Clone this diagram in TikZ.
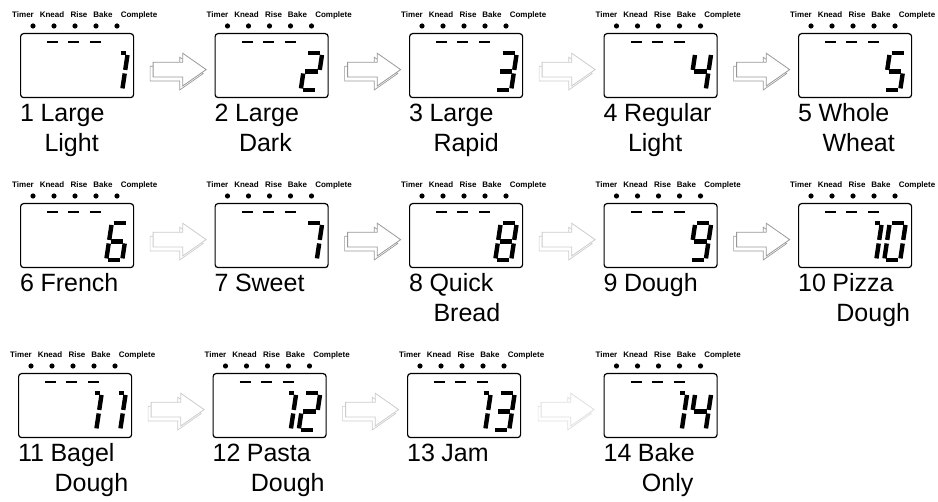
\documentclass[tikz,border=0pt]{standalone}
\usepackage{fontspec}
\setmainfont{Liberation Sans}
\usetikzlibrary{calc,shapes.arrows,shadows}

% segments of the seven-segment digits
\expandafter\def\csname seg0\endcsname{tl/tr,tr/mr,mr/br,bl/br,ml/bl,tl/ml}
\expandafter\def\csname seg1\endcsname{tf/tr,tr/mr,mr/br}
\expandafter\def\csname seg2\endcsname{tl/tr,tr/mr,ml/mr,ml/bl,bl/br}
\expandafter\def\csname seg3\endcsname{tl/tr,tr/mr,ml/mr,mr/br,bl/br}
\expandafter\def\csname seg4\endcsname{tl/ml,ml/mr,tr/mr,mr/br}
\expandafter\def\csname seg5\endcsname{tl/tr,tl/ml,ml/mr,mr/br,bl/br}
\expandafter\def\csname seg6\endcsname{tl/tr,tl/ml,ml/mr,ml/bl,bl/br,mr/br}
\expandafter\def\csname seg7\endcsname{tl/tr,tr/mr,mr/br}
\expandafter\def\csname seg8\endcsname{tl/tr,tr/mr,mr/br,bl/br,ml/bl,tl/ml,ml/mr}
\expandafter\def\csname seg9\endcsname{tl/tr,tl/ml,tr/mr,ml/mr,mr/br,bl/br}

% one digit in a display: box, place counted from the right, digit
\newcommand\lcddigit[3]{%
  \begin{scope}[shift={($(#1.south east)+(-28-24*#2,-8)$)}, xslant=0.15]
    \coordinate (tl) at (0,-37); \coordinate (tf) at (7,-37); \coordinate (tr) at (16,-37);
    \coordinate (ml) at (0,-18.5); \coordinate (mr) at (16,-18.5);
    \coordinate (bl) at (0,0);   \coordinate (br) at (16,0);
  \end{scope}
  \edef\seglist{\csname seg#3\endcsname}
  \foreach \p/\q in \seglist {\draw[lcdseg] (\p) -- (\q);}
}

% display with its indicator row: name, left, top
\newcommand\lcdpanel[3]{%
  \node[lcd] (#1) at (#2,#3) {};
  \foreach \lab/\dx in {Timer/3,Knead/32,Rise/59,Bake/83,Complete/119}
    \node[ind] (#1-\lab) at ($(#1.north west)+(\dx,-15)$) {\lab};
  \foreach \dx in {13,34,55,76,97}
    \fill ($(#1.north west)+(\dx,-7)$) circle[radius=2.6pt];
  \foreach \dx in {27,48,70}
    \draw[lcddash] ($(#1.north west)+(\dx,9)$) -- ++(11,0);
}

% caption under a display: name, number, word, second line
\newcommand\lcdlabel[4]{%
  \node[lbl] (#1-n) at ($(#1.south west)+(0,23)$) {#2};
  \node[lbl] (#1-w) at ($(#1-n.base east)+(6,0)$) {#3};
  \node[lbl] (#1-x) at ($(#1-w.base west)+(4,30)$) {#4};
}

\begin{document}
\begin{tikzpicture}[x=1pt, y=-1pt,
  lcd/.style={draw, line width=1.2pt, rounded corners=3pt, minimum width=113pt, minimum height=64pt, inner sep=0pt, anchor=north west},
  lcdseg/.style={line width=4.4pt, line cap=butt, shorten <=1.8pt, shorten >=1.8pt},
  lcddash/.style={line width=2.2pt},
  ind/.style={font=\fontsize{8}{9}\selectfont\bfseries, inner sep=0pt, anchor=base},
  lbl/.style={font=\fontsize{25}{28}\selectfont, inner sep=0pt, anchor=base west},
  blk/.style={single arrow, draw=#1, fill=white, line width=0.8pt, minimum height=53pt, minimum width=32pt,
    inner sep=7pt, single arrow head extend=9pt, single arrow tip angle=70, yshift=-4pt,
    copy shadow={shadow xshift=-3pt, shadow yshift=-4pt, draw=#1, line width=0.7pt}},
  blk/.default=gray!80]
\useasboundingbox (0,0) rectangle (938,502);

\lcdpanel{b1}{20}{33}
\lcdpanel{b2}{214.5}{33}
\lcdpanel{b3}{409}{33}
\lcdpanel{b4}{603.5}{33}
\lcdpanel{b5}{798}{33}
\lcdpanel{b6}{20}{203}
\lcdpanel{b7}{214.5}{203}
\lcdpanel{b8}{409}{203}
\lcdpanel{b9}{603.5}{203}
\lcdpanel{b10}{798}{203}
\lcdpanel{b11}{18}{373}
\lcdpanel{b12}{212.5}{373}
\lcdpanel{b13}{407}{373}
\lcdpanel{b14}{603.5}{373}

\lcddigit{b1}{0}{1}
\lcddigit{b2}{0}{2}
\lcddigit{b3}{0}{3}
\lcddigit{b4}{0}{4}
\lcddigit{b5}{0}{5}
\lcddigit{b6}{0}{6}
\lcddigit{b7}{0}{7}
\lcddigit{b8}{0}{8}
\lcddigit{b9}{0}{9}
\lcddigit{b10}{1}{1} \lcddigit{b10}{0}{0}
\lcddigit{b11}{1}{1} \lcddigit{b11}{0}{1}
\lcddigit{b12}{1}{1} \lcddigit{b12}{0}{2}
\lcddigit{b13}{1}{1} \lcddigit{b13}{0}{3}
\lcddigit{b14}{1}{1} \lcddigit{b14}{0}{4}

\lcdlabel{b1}{1}{Large}{Light}
\lcdlabel{b2}{2}{Large}{Dark}
\lcdlabel{b3}{3}{Large}{Rapid}
\lcdlabel{b4}{4}{Regular}{Light}
\lcdlabel{b5}{5}{Whole}{Wheat}
\lcdlabel{b6}{6}{French}{}
\lcdlabel{b7}{7}{Sweet}{}
\lcdlabel{b8}{8}{Quick}{Bread}
\lcdlabel{b9}{9}{Dough}{}
\lcdlabel{b10}{10}{Pizza}{Dough}
\lcdlabel{b11}{11}{Bagel}{Dough}
\lcdlabel{b12}{12}{Pasta}{Dough}
\lcdlabel{b13}{13}{Jam}{}
\lcdlabel{b14}{14}{Bake}{Only}

% block arrows between the displays
\node[blk] (a1) at ($(b1.east)!0.5!(b2.west)$) {};
\node[blk] (a2) at ($(b2.east)!0.5!(b3.west)$) {};
\node[blk=gray!40] (a3) at ($(b3.east)!0.5!(b4.west)$) {};
\node[blk] (a4) at ($(b4.east)!0.5!(b5.west)$) {};
\node[blk=gray!40] (a6) at ($(b6.east)!0.5!(b7.west)$) {};
\node[blk] (a7) at ($(b7.east)!0.5!(b8.west)$) {};
\node[blk=gray!40] (a8) at ($(b8.east)!0.5!(b9.west)$) {};
\node[blk] (a9) at ($(b9.east)!0.5!(b10.west)$) {};
\node[blk=gray!40] (a11) at ($(b11.east)!0.5!(b12.west)$) {};
\node[blk=gray!40] (a12) at ($(b12.east)!0.5!(b13.west)$) {};
\node[blk=gray!25] (a13) at ($(b13.east)!0.5!(b14.west)$) {};
\end{tikzpicture}
\end{document}
